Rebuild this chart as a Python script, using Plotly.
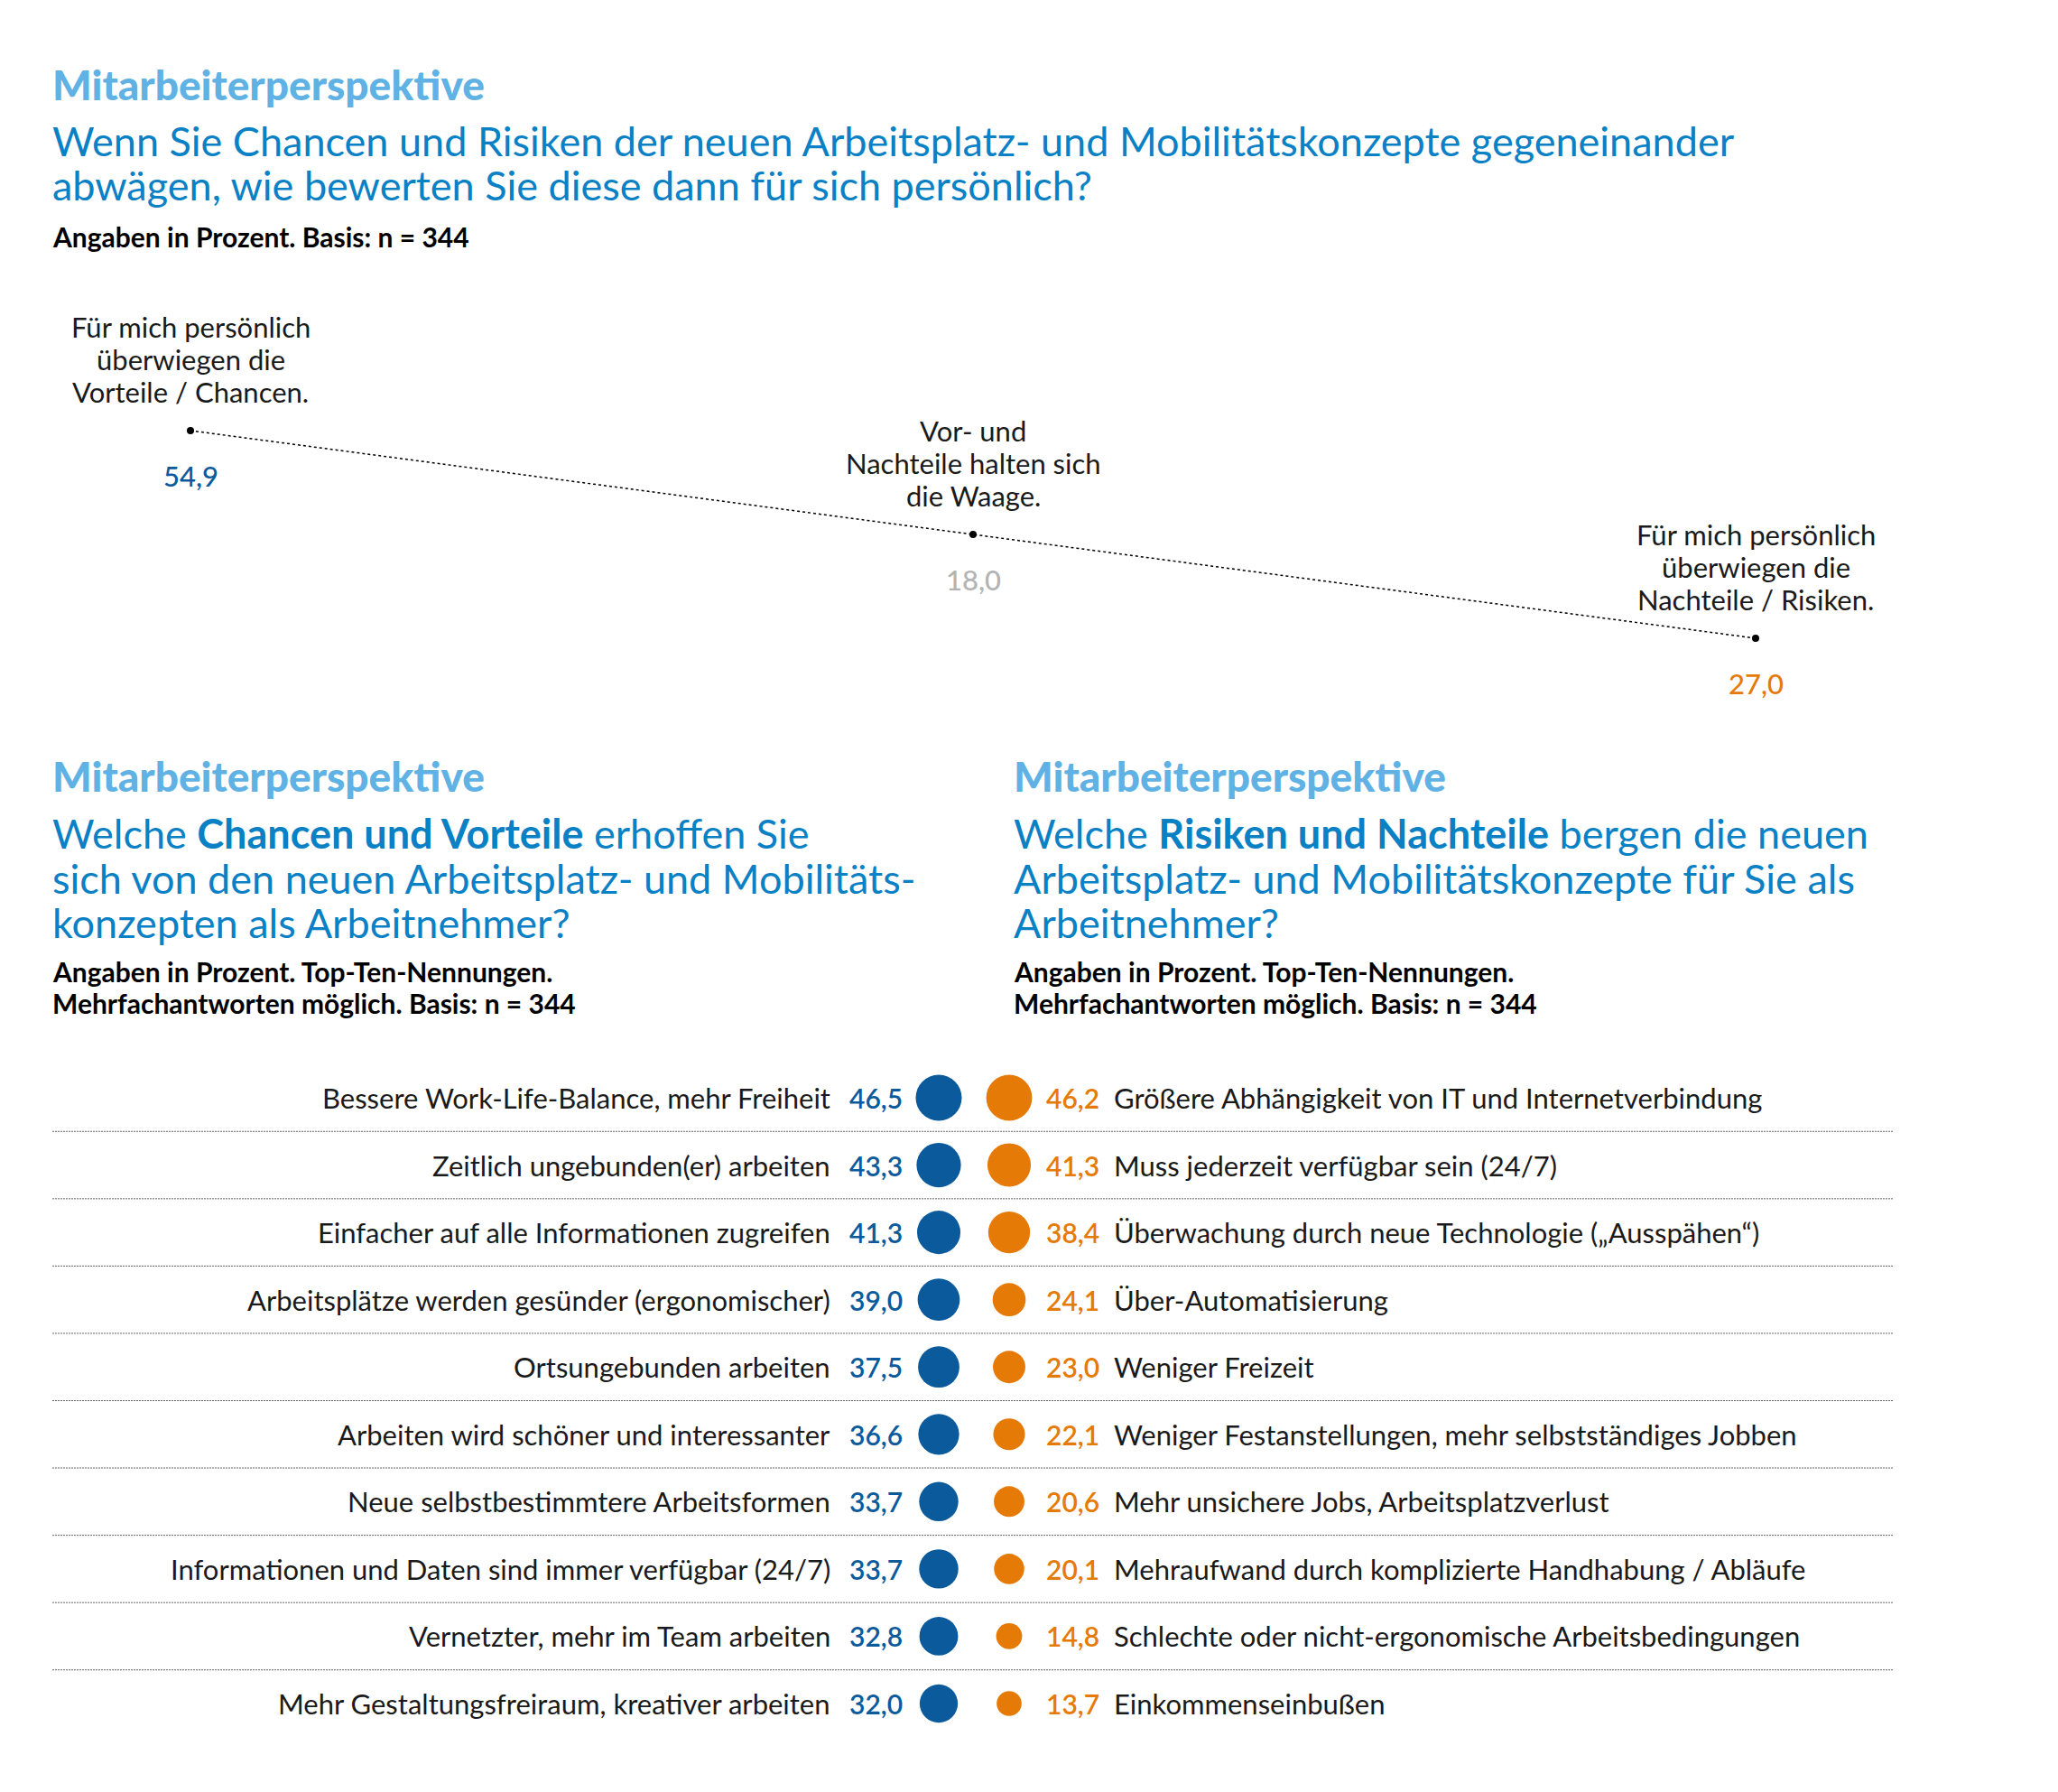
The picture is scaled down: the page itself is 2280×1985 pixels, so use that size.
import plotly.graph_objects as go

W, H = 2280, 1985

# ---------------- data ----------------
overall_labels = [
    "Für mich persönlich<br>überwiegen die<br>Vorteile / Chancen.",
    "Vor- und<br>Nachteile halten sich<br>die Waage.",
    "Für mich persönlich<br>überwiegen die<br>Nachteile / Risiken.",
]
overall_values = [54.9, 18.0, 27.0]

chance_labels = [
    "Bessere Work-Life-Balance, mehr Freiheit",
    "Zeitlich ungebunden(er) arbeiten",
    "Einfacher auf alle Informationen zugreifen",
    "Arbeitsplätze werden gesünder (ergonomischer)",
    "Ortsungebunden arbeiten",
    "Arbeiten wird schöner und interessanter",
    "Neue selbstbestimmtere Arbeitsformen",
    "Informationen und Daten sind immer verfügbar (24/7)",
    "Vernetzter, mehr im Team arbeiten",
    "Mehr Gestaltungsfreiraum, kreativer arbeiten",
]
chance_values = [46.5, 43.3, 41.3, 39.0, 37.5, 36.6, 33.7, 33.7, 32.8, 32.0]

risk_labels = [
    "Größere Abhängigkeit von IT und Internetverbindung",
    "Muss jederzeit verfügbar sein (24/7)",
    "Überwachung durch neue Technologie („Ausspähen“)",
    "Über-Automatisierung",
    "Weniger Freizeit",
    "Weniger Festanstellungen, mehr selbstständiges Jobben",
    "Mehr unsichere Jobs, Arbeitsplatzverlust",
    "Mehraufwand durch komplizierte Handhabung / Abläufe",
    "Schlechte oder nicht-ergonomische Arbeitsbedingungen",
    "Einkommenseinbußen",
]
risk_values = [46.2, 41.3, 38.4, 24.1, 23.0, 22.1, 20.6, 20.1, 14.8, 13.7]

# ---------------- styles ----------------
FONT = "Lato"
LIGHT_BLUE = "#5fb2e3"
Q_BLUE = "#0a80c5"
DARK_BLUE = "#0b5a9c"
ORANGE = "#e67a07"
GREY_VAL = "#b3b3b3"
TEXT = "#1a1a1a"
overall_colors = [DARK_BLUE, GREY_VAL, ORANGE]


def fmt(v):
    return f"{v:.1f}".replace(".", ",")


def px_y(y):
    return 1 - y / H


def px_x(x):
    return x / W


fig = go.Figure()

# ---------------- top chart ----------------
n_over = len(overall_values)
x_over = list(range(n_over))
y_over = [n_over - 1 - i for i in range(n_over)]
fig.add_trace(go.Scatter(
    x=x_over, y=y_over, mode="lines+markers",
    line=dict(color="black", width=1.5, dash="dot"),
    marker=dict(color="black", size=8),
    xaxis="x", yaxis="y", hoverinfo="skip", cliponaxis=False, showlegend=False,
))

annotations = []
LINE_H = 36
for i, (lab, val) in enumerate(zip(overall_labels, overall_values)):
    parts = lab.split("<br>")
    n = len(parts)
    for k, part in enumerate(parts):
        annotations.append(dict(
            x=x_over[i], y=y_over[i], xref="x", yref="y", text=part, showarrow=False,
            yanchor="middle", xanchor="center", yshift=79 + ((n - 1) / 2 - k) * LINE_H,
            font=dict(family=FONT, size=31, color=TEXT),
        ))
    annotations.append(dict(
        x=x_over[i], y=y_over[i], xref="x", yref="y", text=fmt(val), showarrow=False,
        yanchor="middle", xanchor="center", yshift=-50,
        font=dict(family=FONT, size=31, color=overall_colors[i], weight=500),
    ))

# ---------------- bottom chart ----------------
n_rows = len(chance_values)
rows = list(range(n_rows))
max_d = 51
sizeref = 2 * 46.5 / (max_d ** 2)
fig.add_trace(go.Scatter(
    x=[0] * n_rows, y=rows, mode="markers",
    marker=dict(color=DARK_BLUE, size=chance_values, sizemode="area", sizeref=sizeref,
                opacity=1, line=dict(width=0)),
    xaxis="x2", yaxis="y2", hoverinfo="skip", cliponaxis=False, showlegend=False,
))
fig.add_trace(go.Scatter(
    x=[1] * n_rows, y=rows, mode="markers",
    marker=dict(color=ORANGE, size=risk_values, sizemode="area", sizeref=sizeref,
                opacity=1, line=dict(width=0)),
    xaxis="x2", yaxis="y2", hoverinfo="skip", cliponaxis=False, showlegend=False,
))

for r in rows:
    annotations.append(dict(x=0, y=r, xref="x2", yref="y2", text=chance_labels[r], showarrow=False,
                            xanchor="right", yanchor="middle", xshift=-118,
                            font=dict(family=FONT, size=31, color=TEXT)))
    annotations.append(dict(x=0, y=r, xref="x2", yref="y2", text=fmt(chance_values[r]), showarrow=False,
                            xanchor="right", yanchor="middle", xshift=-38,
                            font=dict(family=FONT, size=30, color=DARK_BLUE, weight=600)))
    annotations.append(dict(x=1, y=r, xref="x2", yref="y2", text=fmt(risk_values[r]), showarrow=False,
                            xanchor="right", yanchor="middle", xshift=102,
                            font=dict(family=FONT, size=30, color=ORANGE, weight=600)))
    annotations.append(dict(x=1, y=r, xref="x2", yref="y2", text=risk_labels[r], showarrow=False,
                            xanchor="left", yanchor="middle", xshift=114,
                            font=dict(family=FONT, size=31, color=TEXT)))

shapes = []
for r in rows[:-1]:
    shapes.append(dict(type="line", xref="paper", yref="y2", x0=px_x(58), x1=px_x(2098),
                       y0=r + 0.5, y1=r + 0.5, line=dict(color="#666666", width=1, dash="2px,1px")))

# ---------------- titles ----------------
def text_line(x, y, txt, size, color, weight=400):
    annotations.append(dict(x=px_x(x), y=px_y(y), xref="paper", yref="paper", text=txt, showarrow=False,
                            xanchor="left", yanchor="middle",
                            font=dict(family=FONT, size=size, color=color, weight=weight)))

HEAD, Q, SUB = 46, 45, 30
text_line(56, 93, "Mitarbeiterperspektive", HEAD, LIGHT_BLUE, 900)
text_line(56, 156, "Wenn Sie Chancen und Risiken der neuen Arbeitsplatz- und Mobilitätskonzepte gegeneinander", Q, Q_BLUE)
text_line(56, 205, "abwägen, wie bewerten Sie diese dann für sich persönlich?", Q, Q_BLUE)
text_line(56, 262, "Angaben in Prozent. Basis: n = 344", SUB, "black", 700)

text_line(56, 859, "Mitarbeiterperspektive", HEAD, LIGHT_BLUE, 900)
text_line(56, 923, "Welche <b>Chancen und Vorteile</b> erhoffen Sie", Q, Q_BLUE)
text_line(56, 973, "sich von den neuen Arbeitsplatz- und Mobilitäts-", Q, Q_BLUE)
text_line(56, 1022, "konzepten als Arbeitnehmer?", Q, Q_BLUE)
text_line(56, 1076, "Angaben in Prozent. Top-Ten-Nennungen.", SUB, "black", 700)
text_line(56, 1111, "Mehrfachantworten möglich. Basis: n = 344", SUB, "black", 700)

text_line(1121, 859, "Mitarbeiterperspektive", HEAD, LIGHT_BLUE, 900)
text_line(1121, 923, "Welche <b>Risiken und Nachteile</b> bergen die neuen", Q, Q_BLUE)
text_line(1121, 973, "Arbeitsplatz- und Mobilitätskonzepte für Sie als", Q, Q_BLUE)
text_line(1121, 1022, "Arbeitnehmer?", Q, Q_BLUE)
text_line(1121, 1076, "Angaben in Prozent. Top-Ten-Nennungen.", SUB, "black", 700)
text_line(1121, 1111, "Mehrfachantworten möglich. Basis: n = 344", SUB, "black", 700)

hidden = dict(visible=False, showgrid=False, zeroline=False, fixedrange=True)
fig.update_layout(
    width=W, height=H, margin=dict(l=0, r=0, t=0, b=0),
    paper_bgcolor="white", plot_bgcolor="white",
    xaxis=dict(domain=[px_x(211), px_x(1945)], range=[0, n_over - 1], **hidden),
    yaxis=dict(domain=[px_y(707), px_y(477)], range=[0, n_over - 1], **hidden),
    xaxis2=dict(domain=[px_x(1040), px_x(1118)], range=[0, 1], anchor="y2", **hidden),
    yaxis2=dict(domain=[px_y(1887), px_y(1216)], range=[n_rows - 1, 0], anchor="x2", **hidden),
    annotations=annotations, shapes=shapes, showlegend=False,
)

fig.write_html("out.html", config={"displayModeBar": False},
               post_script="document.body.style.margin='0';")
